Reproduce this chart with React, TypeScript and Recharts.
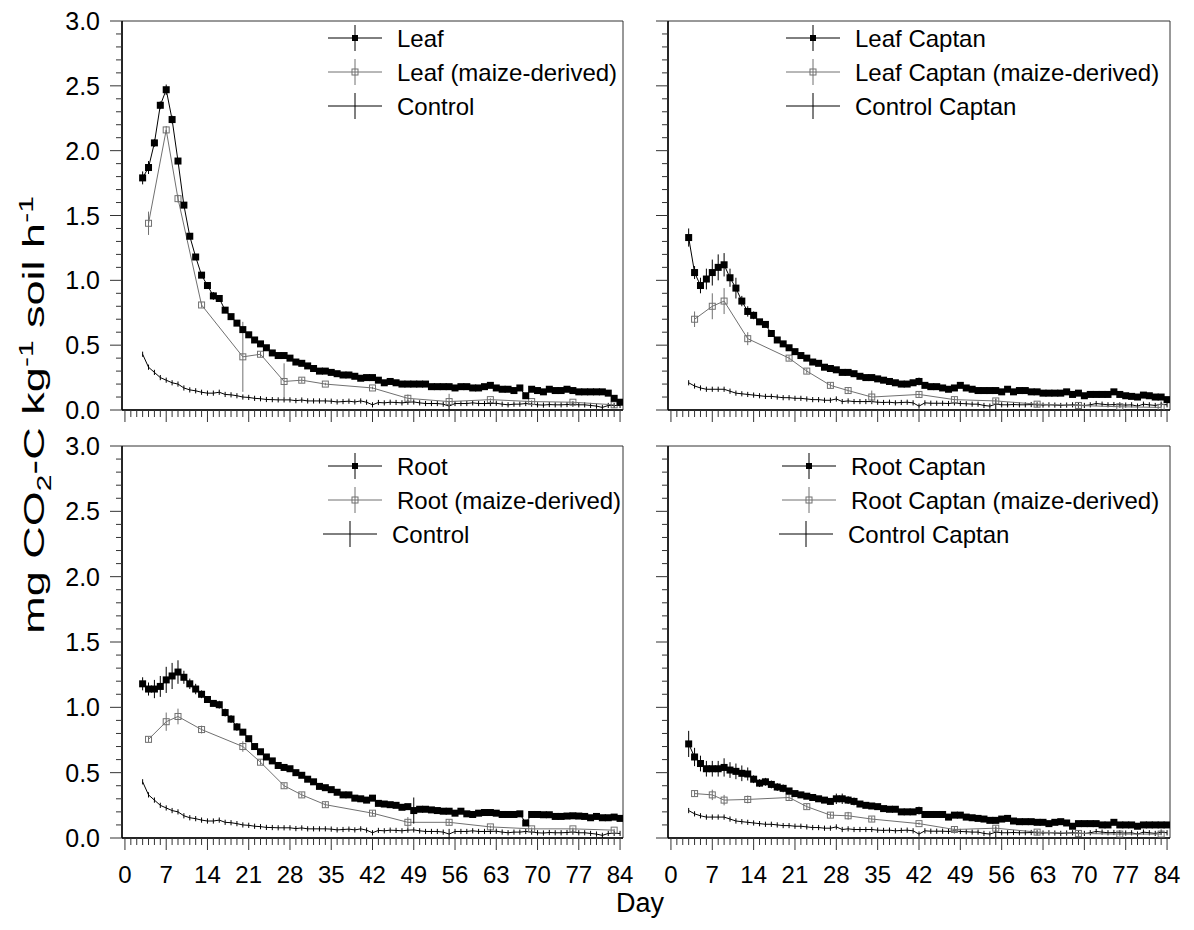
import React from "react";
import { ComposedChart, Line, XAxis, YAxis, ErrorBar, ReferenceArea, Legend } from "recharts";

// sampling days
const DAYS = [
  3, 4, 5, 6, 7, 8, 9, 10, 11, 12,
  13, 14, 15, 16, 17, 18, 19, 20, 21, 22,
  23, 24, 25, 26, 27, 28, 29, 30, 31, 32,
  33, 34, 35, 36, 37, 38, 39, 40, 41, 42,
  43, 44, 45, 46, 47, 48, 49, 50, 51, 52,
  53, 54, 55, 56, 57, 58, 59, 60, 61, 62,
  63, 64, 65, 66, 67, 68, 69, 70, 71, 72,
  73, 74, 75, 76, 77, 78, 79, 80, 81, 82,
  83, 84,
];
const MAIZE_DAYS = [4, 7, 9, 13, 20, 23, 27, 30, 34, 42, 48, 55, 62, 69, 76, 83];

const X_MAJOR = [0, 7, 14, 21, 28, 35, 42, 49, 56, 63, 70, 77, 84];
const Y_MAJOR = [0, 0.5, 1, 1.5, 2, 2.5, 3];
const X_MINOR = Array.from({ length: 85 }, (_, i) => i);
const Y_MINOR = Array.from({ length: 31 }, (_, i) => i / 10);

// Leaf
const LEAF = [
  1.79, 1.87, 2.06, 2.35, 2.47, 2.24, 1.92, 1.58, 1.34, 1.18,
  1.04, 0.96, 0.88, 0.86, 0.77, 0.72, 0.67, 0.62, 0.58, 0.54,
  0.51, 0.48, 0.44, 0.42, 0.42, 0.4, 0.37, 0.36, 0.34, 0.32,
  0.3, 0.3, 0.29, 0.28, 0.27, 0.27, 0.26, 0.245, 0.25, 0.25,
  0.23, 0.21, 0.22, 0.21, 0.2, 0.2, 0.2, 0.2, 0.2, 0.18,
  0.18, 0.18, 0.18, 0.17, 0.18, 0.18, 0.17, 0.17, 0.18, 0.19,
  0.17, 0.16, 0.16, 0.15, 0.17, 0.11, 0.16, 0.15, 0.14, 0.16,
  0.15, 0.15, 0.16, 0.15, 0.14, 0.14, 0.14, 0.14, 0.14, 0.13,
  0.09, 0.06,
];
const LEAF_ERR = [
  0.05, 0.05, 0.03, 0.03, 0.04, 0.03, 0.02, 0.02, 0.02, 0.02,
  0.02, 0.02, 0.03, 0.02, 0.02, 0.02, 0.02, 0.02, 0.02, 0.02,
  0.02, 0.02, 0.02, 0.02, 0.02, 0.02, 0.02, 0.02, 0.02, 0.02,
  0.02, 0.02, 0.02, 0.02, 0.02, 0.02, 0.02, 0.02, 0.02, 0.02,
  0.02, 0.02, 0.02, 0.02, 0.02, 0.02, 0.02, 0.02, 0.02, 0.02,
  0.02, 0.02, 0.02, 0.02, 0.02, 0.02, 0.02, 0.02, 0.02, 0.02,
  0.02, 0.02, 0.02, 0.02, 0.02, 0.02, 0.02, 0.02, 0.02, 0.02,
  0.02, 0.02, 0.02, 0.02, 0.02, 0.02, 0.02, 0.02, 0.02, 0.02,
  0.02, 0.02,
];
const LEAF_MAIZE = [1.44, 2.16, 1.63, 0.81, 0.41, 0.43, 0.22, 0.23, 0.2, 0.17, 0.09, 0.065, 0.08, 0.065, 0.06, 0.04];
const LEAF_MAIZE_ERR = [0.09, 0.03, 0.03, 0.02, 0.27, 0.02, 0.14, 0.02, 0.01, 0.01, 0.03, 0.06, 0.01, 0.01, 0.01, 0.01];

// Leaf Captan
const LEAF_CAPTAN = [
  1.33, 1.06, 0.96, 1.01, 1.06, 1.1, 1.12, 1.02, 0.94, 0.84,
  0.76, 0.73, 0.68, 0.66, 0.59, 0.54, 0.51, 0.48, 0.45, 0.42,
  0.4, 0.37, 0.36, 0.33, 0.32, 0.31, 0.29, 0.29, 0.28, 0.26,
  0.25, 0.25, 0.24, 0.23, 0.22, 0.21, 0.2, 0.2, 0.21, 0.22,
  0.19, 0.18, 0.18, 0.17, 0.16, 0.17, 0.19, 0.17, 0.16, 0.15,
  0.15, 0.15, 0.15, 0.14, 0.16, 0.14, 0.15, 0.15, 0.14, 0.14,
  0.13, 0.13, 0.13, 0.13, 0.14, 0.12, 0.13, 0.11, 0.12, 0.12,
  0.12, 0.12, 0.14, 0.12, 0.11, 0.105, 0.1, 0.115, 0.11, 0.1,
  0.1, 0.08,
];
const LEAF_CAPTAN_ERR = [
  0.07, 0.05, 0.06, 0.08, 0.1, 0.1, 0.09, 0.07, 0.08, 0.04,
  0.04, 0.03, 0.02, 0.02, 0.02, 0.02, 0.02, 0.02, 0.02, 0.02,
  0.02, 0.02, 0.02, 0.02, 0.02, 0.02, 0.02, 0.02, 0.02, 0.02,
  0.02, 0.02, 0.02, 0.02, 0.02, 0.02, 0.02, 0.02, 0.02, 0.03,
  0.02, 0.02, 0.02, 0.02, 0.02, 0.02, 0.02, 0.02, 0.02, 0.02,
  0.02, 0.02, 0.02, 0.02, 0.02, 0.02, 0.02, 0.02, 0.02, 0.02,
  0.02, 0.02, 0.02, 0.02, 0.02, 0.02, 0.02, 0.02, 0.02, 0.02,
  0.02, 0.02, 0.02, 0.02, 0.02, 0.02, 0.02, 0.02, 0.02, 0.02,
  0.02, 0.02,
];
const LEAF_CAPTAN_MAIZE = [0.7, 0.8, 0.84, 0.55, 0.4, 0.3, 0.19, 0.15, 0.1, 0.12, 0.08, 0.07, 0.045, 0.035, 0.025, 0.02];
const LEAF_CAPTAN_MAIZE_ERR = [0.06, 0.1, 0.1, 0.05, 0.02, 0.02, 0.02, 0.02, 0.05, 0.02, 0.02, 0.02, 0.01, 0.01, 0.01, 0.01];

// Root
const ROOT = [
  1.18, 1.14, 1.14, 1.16, 1.21, 1.24, 1.27, 1.23, 1.18, 1.14,
  1.1, 1.06, 1.03, 1.02, 0.96, 0.91, 0.85, 0.81, 0.76, 0.7,
  0.66, 0.62, 0.59, 0.555, 0.54, 0.53, 0.5, 0.48, 0.45, 0.43,
  0.395, 0.385, 0.37, 0.35, 0.33, 0.33, 0.305, 0.3, 0.29, 0.305,
  0.265, 0.26, 0.255, 0.25, 0.235, 0.24, 0.21, 0.22, 0.22, 0.215,
  0.21, 0.205, 0.205, 0.19, 0.205, 0.185, 0.18, 0.19, 0.195, 0.195,
  0.19, 0.18, 0.18, 0.18, 0.185, 0.115, 0.18, 0.18, 0.178, 0.178,
  0.165, 0.165, 0.168, 0.17, 0.168, 0.165, 0.155, 0.165, 0.155, 0.155,
  0.16, 0.15,
];
const ROOT_ERR = [
  0.05, 0.05, 0.07, 0.08, 0.1, 0.1, 0.09, 0.05, 0.04, 0.04,
  0.03, 0.02, 0.02, 0.03, 0.03, 0.03, 0.03, 0.02, 0.02, 0.02,
  0.02, 0.02, 0.02, 0.02, 0.02, 0.02, 0.02, 0.02, 0.02, 0.02,
  0.02, 0.02, 0.02, 0.02, 0.02, 0.02, 0.02, 0.02, 0.02, 0.02,
  0.02, 0.02, 0.02, 0.02, 0.02, 0.02, 0.1, 0.02, 0.02, 0.02,
  0.02, 0.02, 0.02, 0.02, 0.02, 0.02, 0.02, 0.02, 0.02, 0.02,
  0.02, 0.02, 0.02, 0.02, 0.02, 0.02, 0.02, 0.02, 0.02, 0.02,
  0.02, 0.02, 0.02, 0.02, 0.02, 0.02, 0.02, 0.02, 0.02, 0.02,
  0.02, 0.02,
];
const ROOT_MAIZE = [0.755, 0.89, 0.93, 0.83, 0.7, 0.58, 0.4, 0.33, 0.255, 0.19, 0.12, 0.12, 0.085, 0.07, 0.07, 0.06];
const ROOT_MAIZE_ERR = [0.02, 0.07, 0.06, 0.03, 0.04, 0.02, 0.02, 0.02, 0.02, 0.02, 0.04, 0.02, 0.01, 0.01, 0.01, 0.01];

// Root Captan
const ROOT_CAPTAN = [
  0.72, 0.62, 0.57, 0.53, 0.53, 0.53, 0.54, 0.52, 0.51, 0.495,
  0.49, 0.45, 0.42, 0.43, 0.41, 0.39, 0.38, 0.36, 0.34, 0.33,
  0.32, 0.31, 0.3, 0.29, 0.28, 0.3, 0.3, 0.29, 0.28, 0.26,
  0.25, 0.245, 0.24, 0.225, 0.22, 0.22, 0.2, 0.2, 0.2, 0.21,
  0.18, 0.18, 0.18, 0.18, 0.16, 0.175, 0.175, 0.16, 0.155, 0.15,
  0.145, 0.135, 0.135, 0.145, 0.15, 0.13, 0.125, 0.125, 0.125, 0.12,
  0.12, 0.11, 0.12, 0.125, 0.115, 0.09, 0.11, 0.11, 0.11, 0.11,
  0.1, 0.1, 0.12, 0.1, 0.1, 0.1, 0.09, 0.1, 0.1, 0.1,
  0.1, 0.1,
];
const ROOT_CAPTAN_ERR = [
  0.1, 0.07, 0.06, 0.06, 0.06, 0.06, 0.07, 0.06, 0.06, 0.06,
  0.05, 0.03, 0.03, 0.03, 0.03, 0.03, 0.03, 0.02, 0.02, 0.02,
  0.02, 0.02, 0.02, 0.02, 0.02, 0.04, 0.04, 0.03, 0.03, 0.02,
  0.02, 0.02, 0.02, 0.02, 0.02, 0.02, 0.02, 0.02, 0.02, 0.03,
  0.02, 0.02, 0.02, 0.02, 0.02, 0.02, 0.02, 0.02, 0.02, 0.02,
  0.02, 0.02, 0.02, 0.02, 0.02, 0.02, 0.02, 0.02, 0.02, 0.02,
  0.02, 0.02, 0.02, 0.02, 0.02, 0.02, 0.02, 0.02, 0.02, 0.02,
  0.02, 0.02, 0.02, 0.02, 0.02, 0.02, 0.02, 0.02, 0.02, 0.02,
  0.02, 0.02,
];
const ROOT_CAPTAN_MAIZE = [0.34, 0.33, 0.29, 0.295, 0.31, 0.24, 0.175, 0.17, 0.145, 0.11, 0.065, 0.075, 0.045, 0.035, 0.03, 0.03];
const ROOT_CAPTAN_MAIZE_ERR = [0.02, 0.04, 0.04, 0.03, 0.02, 0.02, 0.02, 0.03, 0.02, 0.01, 0.02, 0.02, 0.01, 0.01, 0.01, 0.01];

// Controls
const CONTROL = [
  0.43, 0.33, 0.29, 0.25, 0.23, 0.21, 0.2, 0.17, 0.155, 0.148,
  0.137, 0.13, 0.13, 0.137, 0.12, 0.117, 0.11, 0.1, 0.097, 0.09,
  0.087, 0.081, 0.08, 0.078, 0.078, 0.078, 0.072, 0.077, 0.07, 0.07,
  0.07, 0.07, 0.068, 0.062, 0.065, 0.068, 0.062, 0.07, 0.06, 0.04,
  0.058, 0.055, 0.06, 0.058, 0.055, 0.06, 0.062, 0.055, 0.05, 0.05,
  0.05, 0.045, 0.03, 0.05, 0.05, 0.05, 0.055, 0.05, 0.05, 0.05,
  0.052, 0.045, 0.04, 0.045, 0.045, 0.05, 0.045, 0.04, 0.038, 0.042,
  0.04, 0.04, 0.042, 0.045, 0.04, 0.04, 0.035, 0.03, 0.02, 0.035,
  0.035, 0.035,
];
const CONTROL_ERR = [
  0.02, 0.02, 0.02, 0.02, 0.02, 0.02, 0.02, 0.02, 0.02, 0.02,
  0.02, 0.02, 0.02, 0.02, 0.02, 0.02, 0.02, 0.02, 0.02, 0.02,
  0.02, 0.02, 0.02, 0.02, 0.02, 0.02, 0.02, 0.02, 0.02, 0.02,
  0.02, 0.02, 0.02, 0.02, 0.02, 0.02, 0.02, 0.02, 0.02, 0.02,
  0.02, 0.02, 0.02, 0.02, 0.02, 0.02, 0.02, 0.02, 0.02, 0.02,
  0.02, 0.02, 0.04, 0.02, 0.02, 0.02, 0.02, 0.02, 0.02, 0.02,
  0.02, 0.02, 0.02, 0.02, 0.02, 0.02, 0.02, 0.02, 0.02, 0.02,
  0.02, 0.02, 0.02, 0.02, 0.02, 0.02, 0.02, 0.02, 0.02, 0.02,
  0.02, 0.02,
];
const CONTROL_CAPTAN = [
  0.21, 0.185, 0.17, 0.16, 0.16, 0.16, 0.16, 0.145, 0.13, 0.125,
  0.12, 0.115, 0.11, 0.105, 0.105, 0.1, 0.095, 0.095, 0.09, 0.09,
  0.085, 0.08, 0.08, 0.075, 0.075, 0.085, 0.065, 0.07, 0.065, 0.065,
  0.065, 0.065, 0.06, 0.058, 0.06, 0.055, 0.058, 0.06, 0.055, 0.03,
  0.055, 0.052, 0.052, 0.052, 0.05, 0.055, 0.05, 0.048, 0.045, 0.045,
  0.035, 0.03, 0.045, 0.04, 0.04, 0.042, 0.04, 0.04, 0.042, 0.04,
  0.038, 0.04, 0.038, 0.035, 0.038, 0.04, 0.038, 0.035, 0.04, 0.05,
  0.045, 0.04, 0.042, 0.04, 0.038, 0.04, 0.03, 0.045, 0.04, 0.035,
  0.045, 0.04,
];
const CONTROL_CAPTAN_ERR = CONTROL_ERR;

const FONT = "'Liberation Sans', Arial, Helvetica, sans-serif";
const GRAY = "#707070";

type Row = { day: number; v: number; e: number };
const rows = (days: number[], vals: number[], errs: number[]): Row[] =>
  days.map((d, i) => ({ day: d, v: vals[i], e: errs[i] }));

const XTick = (props: any) => {
  const { x, y, payload, showLabel } = props;
  const v = payload.value;
  const major = X_MAJOR.includes(v);
  return (
    <g>
      <line x1={x} x2={x} y1={y} y2={y + (major ? 12 : 7)} stroke="#333" strokeWidth={1} />
      {major && showLabel && (
        <text x={x} y={y + 36} textAnchor="middle" dominantBaseline="central" fontSize={24} fontFamily={FONT} fill="#000">
          {v}
        </text>
      )}
    </g>
  );
};

const YTick = (props: any) => {
  const { x, y, payload, showLabel } = props;
  const v = payload.value;
  const major = Y_MAJOR.some((m) => Math.abs(m - v) < 1e-6);
  return (
    <g>
      <line x1={x - (major ? 12 : 6)} x2={x} y1={y} y2={y} stroke="#333" strokeWidth={1} />
      {major && showLabel && (
        <text x={x - 22} y={y} textAnchor="end" dominantBaseline="central" fontSize={25} fontFamily={FONT} fill="#000">
          {v.toFixed(1)}
        </text>
      )}
    </g>
  );
};

const blackDot = (p: any) => (
  <rect key={`b${p.index}`} x={p.cx - 3.5} y={p.cy - 3.5} width={7} height={7} fill="#000" />
);
const grayDot = (p: any) => (
  <rect key={`g${p.index}`} x={p.cx - 3} y={p.cy - 3} width={6} height={6} fill="none" stroke={GRAY} strokeWidth={1} />
);

type LegendItem = { label: string; kind: "main" | "maize" | "control"; dx?: number };

function LegendBox({ items }: { items: LegendItem[] }) {
  return (
    <svg width={340} height={110} style={{ display: "block", overflow: "visible" }}>
      {items.map((it, i) => {
        const cy = 18 + i * 34;
        const dx = it.dx ?? 0;
        const col = it.kind === "maize" ? GRAY : "#000";
        return (
          <g key={it.label} transform={`translate(${dx},0)`}>
            <line x1={8} x2={62} y1={cy} y2={cy} stroke={col} strokeWidth={1} />
            <line x1={35} x2={35} y1={cy - 13} y2={cy + 13} stroke={col} strokeWidth={1} />
            {it.kind === "main" && <rect x={32} y={cy - 3} width={6} height={6} fill="#000" />}
            {it.kind === "maize" && <rect x={32} y={cy - 3} width={6} height={6} fill="none" stroke={GRAY} />}
            <text x={77} y={cy} dominantBaseline="central" fontSize={24} fontFamily={FONT} fill="#000">
              {it.label}
            </text>
          </g>
        );
      })}
    </svg>
  );
}

type PanelProps = {
  left: number;
  top: number;
  width: number;
  height: number;
  marginTop: number;
  yAxisWidth: number;
  xAxisHeight: number;
  showX: boolean;
  showY: boolean;
  main: Row[];
  maize: Row[];
  control: Row[];
  legend: LegendItem[];
  legendX: number;
  legendY: number;
};

function Panel(p: PanelProps) {
  return (
    <div style={{ position: "absolute", left: p.left, top: p.top }}>
      <ComposedChart width={p.width} height={p.height} margin={{ top: p.marginTop, right: 17, bottom: 0, left: 0 }}>
        <XAxis
          type="number"
          dataKey="day"
          domain={[-0.5, 84.5]}
          ticks={X_MINOR}
          interval={0}
          tickSize={0}
          tickMargin={0}
          tickLine={false}
          height={p.xAxisHeight}
          axisLine={{ stroke: "#000", strokeWidth: 1.5 }}
          tick={(t: any) => <XTick {...t} showLabel={p.showX} />}
          allowDataOverflow
        />
        <YAxis
          type="number"
          domain={[0, 3]}
          ticks={Y_MINOR}
          interval={0}
          tickSize={0}
          tickMargin={0}
          tickLine={false}
          width={p.yAxisWidth}
          axisLine={{ stroke: "#000", strokeWidth: 1.5 }}
          tick={(t: any) => <YTick {...t} showLabel={p.showY} />}
          allowDataOverflow
        />
        <ReferenceArea x1={-0.5} x2={84.5} y1={0} y2={3} fill="none" stroke="#333" strokeWidth={1} ifOverflow="visible" />
        <Line data={p.control} dataKey="v" stroke="#000" strokeWidth={1} dot={false} activeDot={false} isAnimationActive={false}>
          <ErrorBar dataKey="e" direction="y" width={0} stroke="#000" strokeWidth={1} />
        </Line>
        <Line data={p.maize} dataKey="v" stroke={GRAY} strokeWidth={1} dot={grayDot} activeDot={false} isAnimationActive={false}>
          <ErrorBar dataKey="e" direction="y" width={0} stroke={GRAY} strokeWidth={1} />
        </Line>
        <Line data={p.main} dataKey="v" stroke="#000" strokeWidth={1} dot={blackDot} activeDot={false} isAnimationActive={false}>
          <ErrorBar dataKey="e" direction="y" width={0} stroke="#000" strokeWidth={1} />
        </Line>
        <Legend
          layout="vertical"
          align="center"
          verticalAlign="middle"
          content={() => <LegendBox items={p.legend} />}
          wrapperStyle={{ left: p.legendX, top: p.legendY, width: 340, height: 110 }}
        />
      </ComposedChart>
    </div>
  );
}

export default function App() {
  return (
    <div style={{ position: "absolute", left: 0, top: 0, width: 1194, height: 930, background: "#fff", fontFamily: FONT }}>
      <Panel
        left={0}
        top={0}
        width={640}
        height={440}
        marginTop={21}
        yAxisWidth={122}
        xAxisHeight={30}
        showX={false}
        showY={true}
        main={rows(DAYS, LEAF, LEAF_ERR)}
        maize={rows(MAIZE_DAYS, LEAF_MAIZE, LEAF_MAIZE_ERR)}
        control={rows(DAYS, CONTROL, CONTROL_ERR)}
        legend={[
          { label: "Leaf", kind: "main" },
          { label: "Leaf (maize-derived)", kind: "maize" },
          { label: "Control", kind: "control" },
        ]}
        legendX={320}
        legendY={20}
      />
      <Panel
        left={648}
        top={0}
        width={539}
        height={440}
        marginTop={21}
        yAxisWidth={20}
        xAxisHeight={30}
        showX={false}
        showY={false}
        main={rows(DAYS, LEAF_CAPTAN, LEAF_CAPTAN_ERR)}
        maize={rows(MAIZE_DAYS, LEAF_CAPTAN_MAIZE, LEAF_CAPTAN_MAIZE_ERR)}
        control={rows(DAYS, CONTROL_CAPTAN, CONTROL_CAPTAN_ERR)}
        legend={[
          { label: "Leaf Captan", kind: "main" },
          { label: "Leaf Captan (maize-derived)", kind: "maize" },
          { label: "Control Captan", kind: "control" },
        ]}
        legendX={130}
        legendY={20}
      />
      <Panel
        left={0}
        top={400}
        width={640}
        height={500}
        marginTop={46}
        yAxisWidth={122}
        xAxisHeight={62}
        showX={true}
        showY={true}
        main={rows(DAYS, ROOT, ROOT_ERR)}
        maize={rows(MAIZE_DAYS, ROOT_MAIZE, ROOT_MAIZE_ERR)}
        control={rows(DAYS, CONTROL, CONTROL_ERR)}
        legend={[
          { label: "Root", kind: "main" },
          { label: "Root (maize-derived)", kind: "maize" },
          { label: "Control", kind: "control", dx: -5 },
        ]}
        legendX={320}
        legendY={48}
      />
      <Panel
        left={648}
        top={400}
        width={539}
        height={500}
        marginTop={46}
        yAxisWidth={20}
        xAxisHeight={62}
        showX={true}
        showY={false}
        main={rows(DAYS, ROOT_CAPTAN, ROOT_CAPTAN_ERR)}
        maize={rows(MAIZE_DAYS, ROOT_CAPTAN_MAIZE, ROOT_CAPTAN_MAIZE_ERR)}
        control={rows(DAYS, CONTROL_CAPTAN, CONTROL_CAPTAN_ERR)}
        legend={[
          { label: "Root Captan", kind: "main" },
          { label: "Root Captan (maize-derived)", kind: "maize" },
          { label: "Control Captan", kind: "control", dx: -3 },
        ]}
        legendX={126}
        legendY={48}
      />
      <div
        style={{
          position: "absolute",
          left: 35,
          top: 415,
          transform: "translate(-50%, -50%) rotate(-90deg) scaleX(1.5)",
          whiteSpace: "nowrap",
          fontSize: 30,
          lineHeight: "34px",
        }}
      >
        mg CO<sub style={{ fontSize: 20 }}>2</sub>-C kg<sup style={{ fontSize: 20 }}>-1</sup> soil h
        <sup style={{ fontSize: 20 }}>-1</sup>
      </div>
      <div
        style={{
          position: "absolute",
          left: 640,
          top: 903,
          transform: "translate(-50%, -50%)",
          fontSize: 27,
        }}
      >
        Day
      </div>
    </div>
  );
}
